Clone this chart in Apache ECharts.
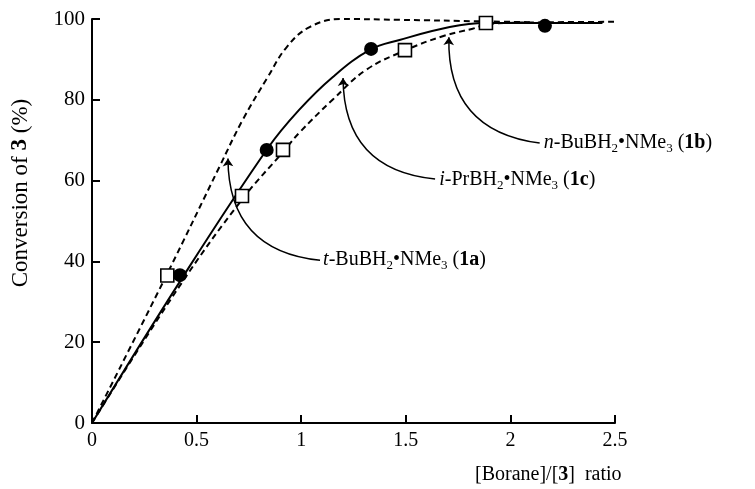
<!DOCTYPE html>
<html>
<head>
<meta charset="utf-8">
<script src="https://cdn.jsdelivr.net/npm/echarts@6/dist/echarts.min.js"></script>
<style>
html, body { margin: 0; padding: 0; background: #fff; }
#chart { width: 755px; height: 489px; }
</style>
</head>
<body>
<div id="chart"></div>
<script>
// conversion curves ([ratio, %])
var curve1a = [[0, 0], [0.36, 37], [0.61, 63.5], [0.72, 75], [0.84, 85.6], [0.93, 93], [1.04, 98], [1.19, 100], [1.47, 99.8], [1.88, 99.4], [2.1, 99.2]];
var curve1b = [[0, 0], [0.42, 35], [0.84, 68], [0.99, 77.5], [1.15, 85.6], [1.33, 92.4], [1.47, 94.8], [1.71, 98], [1.88, 99], [2.17, 99], [2.44, 99]];
var curve1c = [[0, 0], [0.42, 34], [0.72, 55.5], [0.92, 67.5], [0.99, 71.8], [1.15, 80], [1.31, 87.4], [1.5, 92.3], [1.68, 95.8], [1.82, 97.6], [1.9, 98.8], [2.2, 99.2], [2.53, 99.3]];

// measured points
var points1a = [[0.36, 36.5]];
var points1b = [[0.42, 36.6], [0.835, 67.6], [1.334, 92.6], [2.165, 98.3]];
var points1c = [[0.717, 56.2], [0.913, 67.6], [1.496, 92.3], [1.883, 99]];

// annotation arrows: [label end, arrow tip]
var arrow1a = [[1.09, 40.3], [0.65, 65.5]];
var arrow1c = [[1.64, 60.4], [1.2, 85.4]];
var arrow1b = [[2.14, 69.3], [1.706, 95.5]];
var labelNames = ['{i|t}-BuBH{s|2}•NMe{s|3} ({b|1a})', '{i|i}-PrBH{s|2}•NMe{s|3} ({b|1c})', '{i|n}-BuBH{s|2}•NMe{s|3} ({b|1b})'];
var labelPos = [[1.1, 40.3], [1.655, 60.2], [2.155, 69.3]];

var serif = 'Liberation Serif';

var chart = echarts.init(document.getElementById('chart'));

var curveStyle = function (dashed) {
    return {
        type: 'line',
        smooth: 0.4,
        showSymbol: false,
        clip: false,
        silent: true,
        lineStyle: { color: '#000', width: 2, type: dashed ? [6, 4] : 'solid' },
        z: 2
    };
};

var s1a = curveStyle(true); s1a.data = curve1a;
var s1b = curveStyle(false); s1b.data = curve1b;
var s1c = curveStyle(true); s1c.data = curve1c;

chart.setOption({
    animation: false,
    title: {
        text: '[Borane]/[{b|3}]  ratio',
        left: 470,
        top: 460,
        textStyle: {
            fontFamily: serif, fontSize: 20, fontWeight: 'normal', color: '#000',
            rich: { b: { fontFamily: serif, fontSize: 20, fontWeight: 'bold', color: '#000' } }
        }
    },
    grid: { left: 92, right: 140, top: 19, bottom: 66 },
    xAxis: {
        type: 'value',
        min: 0, max: 2.5, interval: 0.5,
        axisLine: { lineStyle: { color: '#000', width: 2 } },
        axisTick: { inside: true, length: 8, lineStyle: { color: '#000', width: 2 } },
        axisLabel: { color: '#000', fontFamily: serif, fontSize: 20, margin: 8 },
        splitLine: { show: false }
    },
    yAxis: {
        type: 'value',
        min: 0, max: 100, interval: 20,
        name: 'Conversion of {b|3} (%)',
        nameLocation: 'middle',
        nameRotate: 90,
        nameGap: 60,
        nameTextStyle: {
            fontFamily: serif, fontSize: 23, color: '#000',
            padding: [0, 0, 0, 56],
            rich: { b: { fontFamily: serif, fontSize: 23, fontWeight: 'bold', color: '#000' } }
        },
        axisLine: { lineStyle: { color: '#000', width: 2 } },
        axisTick: { inside: true, length: 8, lineStyle: { color: '#000', width: 2 } },
        axisLabel: { color: '#000', fontFamily: serif, fontSize: 21, margin: 7 },
        splitLine: { show: false }
    },
    series: [
        s1a, s1b, s1c,
        {
            type: 'scatter',
            data: points1b,
            symbol: 'circle',
            symbolSize: 14,
            itemStyle: { color: '#000', opacity: 1 },
            z: 4
        },
        {
            type: 'scatter',
            data: points1a.concat(points1c),
            symbol: 'rect',
            symbolSize: 13,
            itemStyle: { color: '#fff', borderColor: '#000', borderWidth: 1.6, opacity: 1 },
            z: 4
        },
        {
            type: 'lines',
            coordinateSystem: 'cartesian2d',
            symbol: ['none', 'arrow'],
            symbolSize: 8,
            lineStyle: { color: '#000', width: 1.5, curveness: 0.45, opacity: 1 },
            data: [{ coords: arrow1a }, { coords: arrow1c }, { coords: arrow1b }],
            z: 3
        },
        {
            type: 'scatter',
            symbolSize: 0,
            itemStyle: { opacity: 1 },
            data: labelPos.map(function (p, i) {
                return { value: p, name: labelNames[i] };
            }),
            label: {
                show: true,
                position: 'right',
                distance: 1,
                formatter: function (p) { return p.name; },
                fontFamily: serif,
                fontSize: 20,
                color: '#000',
                lineHeight: 24,
                rich: {
                    i: { fontFamily: serif, fontSize: 20, fontStyle: 'italic', color: '#000', lineHeight: 24 },
                    s: { fontFamily: serif, fontSize: 13, color: '#000', lineHeight: 14, verticalAlign: 'bottom' },
                    b: { fontFamily: serif, fontSize: 20, fontWeight: 'bold', color: '#000', lineHeight: 24 }
                }
            },
            z: 5
        }
    ]
});
</script>
</body>
</html>
